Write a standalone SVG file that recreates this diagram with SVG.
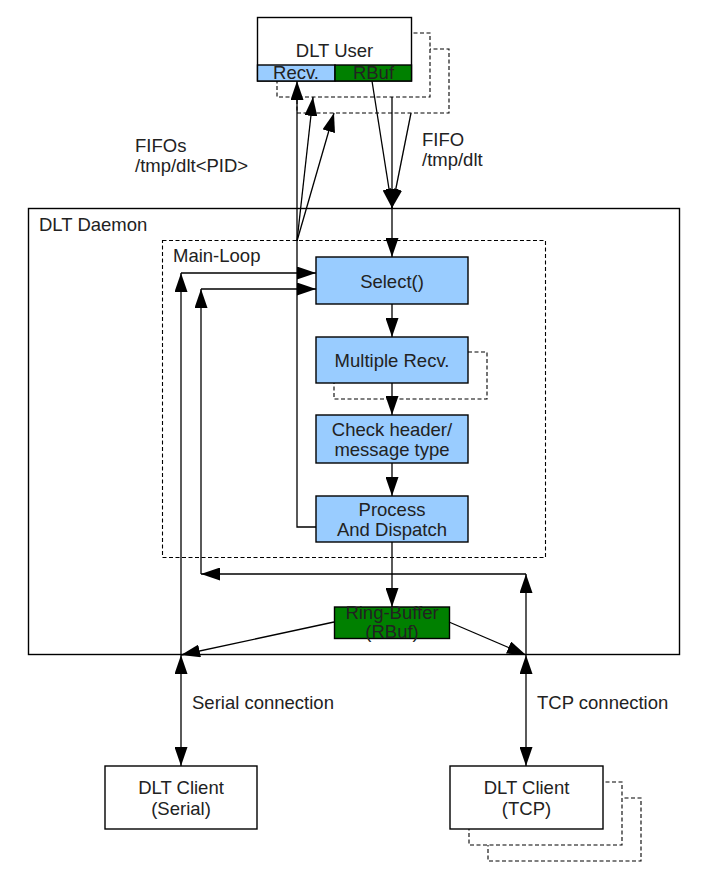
<svg xmlns="http://www.w3.org/2000/svg" width="709" height="879" viewBox="0 0 709 879">
<defs>
<style>
text{font-family:"Liberation Sans",Arial,sans-serif;font-size:18.5px;fill:#222}
.c{text-anchor:middle}
.box{fill:#fff;stroke:#000;stroke-width:1.4}
.blue{fill:#99ccff;stroke:#000;stroke-width:1.4}
.green{fill:#008000;stroke:#000;stroke-width:1.4}
.dash{fill:#fff;stroke:#000;stroke-width:1.1;stroke-dasharray:4 2.5}
.dashn{fill:none;stroke:#000;stroke-width:1.1;stroke-dasharray:4 2.5}
.frame{fill:none;stroke:#000;stroke-width:1.4}
.ln{fill:none;stroke:#000;stroke-width:1.3;marker-end:url(#ah)}
.lnd{fill:none;stroke:#000;stroke-width:1.3;marker-start:url(#ah);marker-end:url(#ah)}
</style>
<marker id="ah" viewBox="0 0 19 13" refX="19" refY="6.5" markerWidth="19" markerHeight="13" markerUnits="userSpaceOnUse" orient="auto-start-reverse">
<path d="M0,0 L19,6.5 L0,13 z" fill="#000"/>
</marker>
</defs>
<rect width="709" height="879" fill="#fff"/>

<g id="dlt-daemon">
<rect class="frame" x="28.5" y="208.5" width="651" height="446"/>
<text x="39" y="231">DLT Daemon</text>
</g>

<g id="main-loop">
<rect class="dashn" x="162.5" y="240.5" width="383" height="317"/>
<text x="173" y="262">Main-Loop</text>
</g>

<g id="dlt-user">
<rect class="dash" x="297" y="49" width="152" height="64"/>
<rect class="dash" x="277" y="33" width="153" height="64"/>
<rect class="box" x="257.5" y="17.5" width="154" height="63.5"/>
<rect class="blue" x="257.5" y="65" width="77.5" height="16"/>
<rect class="green" x="335" y="65" width="76.5" height="16"/>
<text class="c" x="334.5" y="57">DLT User</text>
<text class="c" x="296" y="79">Recv.</text>
<text class="c" x="373.5" y="79">RBuf</text>
</g>

<g id="fifos-label">
<text x="135" y="152">FIFOs</text>
<text x="135" y="172">/tmp/dlt&lt;PID&gt;</text>
</g>

<g id="fifo-label">
<text x="422" y="146">FIFO</text>
<text x="422" y="166">/tmp/dlt</text>
</g>

<g id="select">
<rect class="blue" x="316" y="257" width="152" height="47"/>
<text class="c" x="392" y="288">Select()</text>
</g>

<g id="multiple-recv">
<rect class="blue" x="316" y="337" width="152" height="46"/>
<text class="c" x="392" y="367">Multiple Recv.</text>
</g>

<g id="check-header">
<rect class="blue" x="316" y="415" width="152" height="48"/>
<text class="c" x="392" y="436">Check header/</text>
<text class="c" x="392" y="456">message type</text>
</g>

<g id="process-dispatch">
<rect class="blue" x="316" y="496" width="152" height="46"/>
<text class="c" x="392" y="516">Process</text>
<text class="c" x="392" y="536">And Dispatch</text>
</g>

<g id="ring-buffer">
<rect class="green" x="334.5" y="607" width="115" height="31.5"/>
<text class="c" x="392" y="619">Ring-Buffer</text>
<text class="c" x="392" y="638">(RBuf)</text>
</g>

<g id="serial-label">
<text x="192" y="709">Serial connection</text>
</g>

<g id="tcp-label">
<text x="537" y="709">TCP connection</text>
</g>

<g id="dlt-client-serial">
<rect class="box" x="105" y="766" width="152" height="63"/>
<text class="c" x="181" y="794">DLT Client</text>
<text class="c" x="181" y="815">(Serial)</text>
</g>

<g id="dlt-client-tcp">
<rect class="dash" x="488" y="798" width="153" height="63"/>
<rect class="dash" x="469" y="782" width="153" height="63"/>
<rect class="box" x="450" y="766" width="153" height="63"/>
<text class="c" x="526.5" y="794">DLT Client</text>
<text class="c" x="526.5" y="815">(TCP)</text>
</g>

<g id="connectors">
<polyline class="ln" points="316,527 297,527 297,81"/>
<line class="ln" x1="297" y1="241" x2="313" y2="97"/>
<line class="ln" x1="297" y1="241" x2="334" y2="113"/>
<line class="ln" x1="372" y1="81" x2="392" y2="208"/>
<line class="ln" x1="392" y1="97" x2="392" y2="208"/>
<line class="ln" x1="411" y1="113" x2="392" y2="208"/>
<line class="ln" x1="392" y1="208" x2="392" y2="257"/>
<line class="ln" x1="392" y1="304" x2="392" y2="337"/>
<line class="ln" x1="392" y1="383" x2="392" y2="415"/>
<line class="ln" x1="392" y1="463" x2="392" y2="496"/>
<line class="ln" x1="392" y1="542" x2="392" y2="607"/>
<polyline class="dashn" points="468,352 487,352 487,399 334,399 334,383"/>
<line class="ln" x1="181" y1="655" x2="181" y2="273"/>
<line class="ln" x1="181" y1="273" x2="316" y2="273"/>
<line class="ln" x1="526" y1="655" x2="526" y2="574"/>
<line class="ln" x1="526" y1="574" x2="201" y2="574"/>
<line class="ln" x1="201" y1="574" x2="201" y2="289"/>
<line class="ln" x1="201" y1="289" x2="316" y2="289"/>
<line class="ln" x1="334" y1="622" x2="181" y2="655"/>
<line class="ln" x1="449" y1="622" x2="526" y2="655"/>
<line class="lnd" x1="181" y1="655" x2="181" y2="766"/>
<line class="lnd" x1="526" y1="655" x2="526" y2="766"/>
</g>
</svg>
